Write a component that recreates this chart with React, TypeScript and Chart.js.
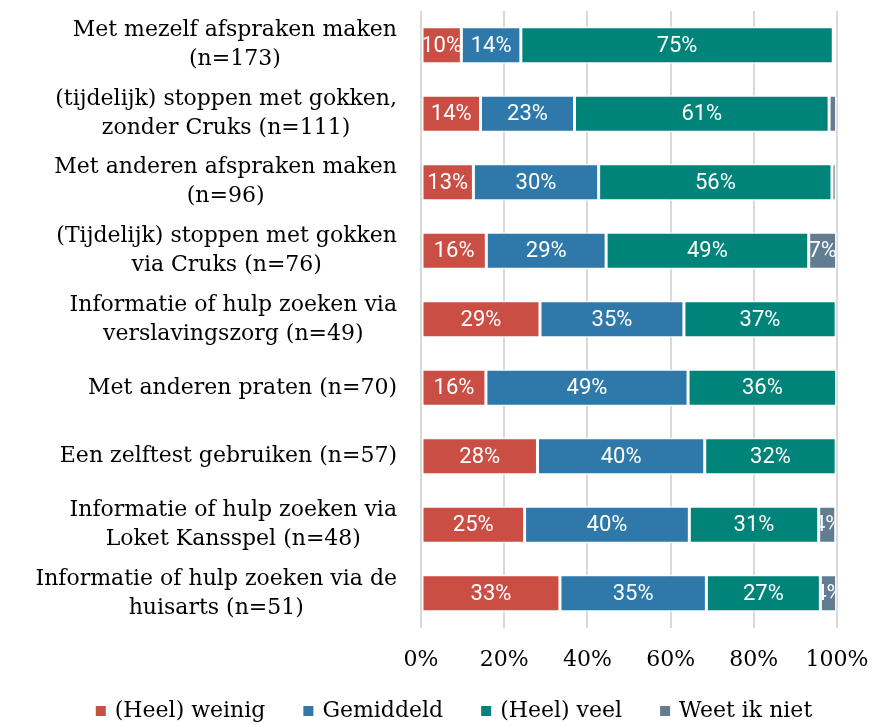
import { useEffect, useRef } from "react";
import { Chart, registerables } from "chart.js";

Chart.register(...registerables);

const categories: string[][] = [
  ["Met mezelf afspraken maken", "(n=173)"],
  ["(tijdelijk) stoppen met gokken,", "zonder Cruks (n=111)"],
  ["Met anderen afspraken maken", "(n=96)"],
  ["(Tijdelijk) stoppen met gokken", "via Cruks (n=76)"],
  ["Informatie of hulp zoeken via", "verslavingszorg (n=49)"],
  ["Met anderen praten (n=70)"],
  ["Een zelftest gebruiken (n=57)"],
  ["Informatie of hulp zoeken via", "Loket Kansspel (n=48)"],
  ["Informatie of hulp zoeken via de", "huisarts (n=51)"],
];

const seriesNames = ["(Heel) weinig", "Gemiddeld", "(Heel) veel", "Weet ik niet"];
const weinig = [9.7, 14.3, 12.6, 15.7, 28.6, 15.6, 28.0, 24.9, 33.4];
const gemiddeld = [14.3, 22.6, 30.1, 28.8, 34.6, 48.6, 40.2, 39.6, 35.2];
const veel = [75.1, 61.2, 56.1, 48.7, 36.6, 35.7, 31.6, 31.1, 27.4];
const weetIkNiet = [0.7, 1.8, 1.0, 6.7, 0, 0, 0, 4.1, 3.9];
const seriesColors = ["#CB4E45", "#2E79AA", "#00847A", "#627C92"];
const xTickValues = [0, 20, 40, 60, 80, 100];

const SERIF = "'DejaVu Serif', serif";
const SANS = "Roboto, 'Noto Sans', sans-serif";

const barLabelPlugin = {
  id: "barLabels",
  afterDatasetsDraw(chart: any) {
    const ctx = chart.ctx;
    const area = chart.chartArea;
    chart.data.datasets.forEach((ds: any, di: number) => {
      const meta = chart.getDatasetMeta(di);
      meta.data.forEach((el: any, i: number) => {
        const v = ds.data[i];
        if (v < 3) return;
        const { x, y, base, height } = el.getProps(["x", "y", "base", "height"], true);
        const left = Math.max(Math.min(x, base), area.left);
        const right = Math.min(Math.max(x, base), area.right);
        ctx.save();
        ctx.beginPath();
        ctx.rect(left + 1.5, y - height / 2, right - left - 3, height);
        ctx.clip();
        ctx.fillStyle = "#ffffff";
        ctx.font = `22px ${SANS}`;
        ctx.textAlign = "center";
        ctx.textBaseline = "middle";
        ctx.fillText(Math.round(v) + "%", (left + right) / 2, y + 1);
        ctx.restore();
      });
    });
  },
};

const categoryLabelPlugin = {
  id: "categoryLabels",
  afterDraw(chart: any) {
    const ctx = chart.ctx;
    const yScale = chart.scales.y;
    const rightEdge = chart.chartArea.left - 24;
    const lineH = 29;
    ctx.save();
    ctx.font = `22px ${SERIF}`;
    ctx.fillStyle = "#000000";
    ctx.textAlign = "center";
    ctx.textBaseline = "middle";
    categories.forEach((lines, i) => {
      const yc = yScale.getPixelForValue(i);
      const w = Math.max(...lines.map((l) => ctx.measureText(l).width));
      const xc = rightEdge - w / 2;
      lines.forEach((l, j) => {
        ctx.fillText(l, xc, yc + (j - (lines.length - 1) / 2) * lineH);
      });
    });
    ctx.restore();
  },
};

const legendPlugin = {
  id: "customLegend",
  afterDraw(chart: any) {
    const ctx = chart.ctx;
    ctx.save();
    ctx.font = `22px ${SERIF}`;
    ctx.textBaseline = "middle";
    ctx.textAlign = "left";
    const box = 10;
    const gapBoxText = 9;
    const gapItems = 38;
    const widths = seriesNames.map((n) => box + gapBoxText + ctx.measureText(n).width);
    const total = widths.reduce((a, b) => a + b, 0) + gapItems * (seriesNames.length - 1);
    const center = chart.width / 2 + 18;
    let x = center - total / 2;
    const y = chart.height - 14;
    seriesNames.forEach((n, i) => {
      ctx.fillStyle = seriesColors[i];
      ctx.fillRect(x, y - box / 2, box, box);
      ctx.fillStyle = "#000000";
      ctx.fillText(n, x + box + gapBoxText, y);
      x += widths[i] + gapItems;
    });
    ctx.restore();
  },
};

export default function App() {
  const ref = useRef<HTMLCanvasElement | null>(null);

  useEffect(() => {
    if (!ref.current) return;
    const labels = categories.map((c) => c.join(" "));
    const series = [weinig, gemiddeld, veel, weetIkNiet];
    const chart = new Chart(ref.current, {
      type: "bar",
      data: {
        labels,
        datasets: series.map((d, i) => ({
          label: seriesNames[i],
          data: d,
          backgroundColor: seriesColors[i],
          borderColor: "#ffffff",
          borderWidth: 1.5,
          borderSkipped: false,
          barPercentage: 0.54,
          categoryPercentage: 1,
        })),
      },
      options: {
        indexAxis: "y",
        animation: false,
        responsive: false,
        maintainAspectRatio: false,
        layout: { padding: { top: 11, left: 35, right: 0, bottom: 33 } },
        plugins: {
          legend: { display: false },
          tooltip: { enabled: false },
        },
        scales: {
          x: {
            stacked: true,
            min: 0,
            max: 100,
            afterBuildTicks: (s: any) => {
              s.ticks = xTickValues.map((v) => ({ value: v }));
            },
            afterFit: (s: any) => {
              s.paddingRight = 35;
            },
            ticks: {
              callback: (v: any) => v + "%",
              font: { family: SERIF, size: 22 },
              color: "#000000",
              padding: 19,
              maxRotation: 0,
            },
            grid: { color: "#d9d9d9", lineWidth: 2, drawTicks: false },
            border: { display: false },
          },
          y: {
            stacked: true,
            ticks: { display: false },
            grid: { display: false },
            border: { display: false },
            afterFit: (s: any) => {
              s.width = 386;
            },
          },
        },
      },
      plugins: [barLabelPlugin, categoryLabelPlugin, legendPlugin],
    });
    return () => chart.destroy();
  }, []);

  return (
    <div style={{ position: "absolute", left: 0, top: 0, width: 872, height: 725, background: "#ffffff" }}>
      <canvas ref={ref} width={872} height={725} style={{ display: "block" }} />
    </div>
  );
}
